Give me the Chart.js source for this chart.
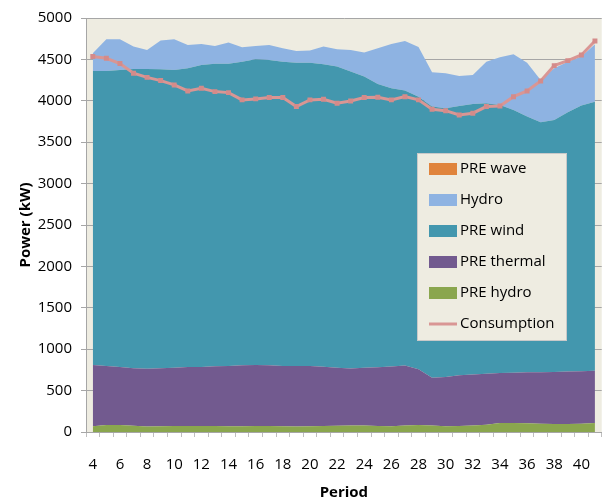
<!DOCTYPE html>
<html>
<head>
<meta charset="utf-8">
<script src="https://cdn.jsdelivr.net/npm/chart.js@4.4.1/dist/chart.umd.min.js"></script>
<style>
  html, body { margin: 0; padding: 0; background: #fff; overflow: hidden; }
  #wrap { width: 614px; height: 503px; }
</style>
</head>
<body>
<div id="wrap"><canvas id="power-chart" width="614" height="503"></canvas></div>
<script>
// Periods on the x axis
const periods = [4, 5, 6, 7, 8, 9, 10, 11, 12, 13, 14, 15, 16, 17, 18, 19, 20, 21, 22,
  23, 24, 25, 26, 27, 28, 29, 30, 31, 32, 33, 34, 35, 36, 37, 38, 39, 40, 41];

// Stacked sources (kW), bottom to top
const preHydro = [70, 85, 85, 75, 65, 68, 72, 72, 72, 72, 70, 70, 72, 72, 70, 65, 68, 72, 75,
  80, 77, 73, 69, 80, 85, 77, 69, 73, 80, 88, 108, 108, 105, 100, 97, 97, 100, 108];
const preThermal = [739, 712, 700, 695, 700, 701, 705, 713, 713, 721, 727, 735, 737, 733, 727, 732, 729, 717, 702,
  687, 700, 708, 721, 722, 674, 578, 596, 612, 613, 617, 606, 608, 617, 622, 629, 633, 634, 632];
const preWind = [3552, 3564, 3588, 3615, 3620, 3611, 3596, 3608, 3648, 3653, 3649, 3668, 3693, 3689, 3676, 3664, 3664, 3652, 3636,
  3586, 3515, 3423, 3362, 3321, 3291, 3275, 3245, 3253, 3269, 3265, 3236, 3174, 3087, 3019, 3043, 3132, 3208, 3250];
const hydro = [214, 383, 371, 270, 230, 347, 371, 282, 254, 217, 257, 174, 161, 181, 162, 141, 145, 214, 210,
  262, 290, 431, 535, 600, 600, 415, 423, 362, 351, 503, 576, 672, 652, 511, 624, 611, 592, 693];
const preWave = [0, 0, 0, 0, 0, 0, 0, 0, 0, 0, 0, 0, 0, 0, 0, 0, 0, 0, 0,
  0, 0, 0, 0, 0, 0, 0, 0, 0, 0, 0, 0, 0, 0, 0, 0, 0, 0, 0];

// Consumption line (kW)
const consumption = [4534, 4514, 4450, 4333, 4283, 4244, 4192, 4119, 4152, 4111, 4099, 4011, 4023, 4039, 4039, 3930, 4011, 4019, 3970,
  3998, 4039, 4043, 4011, 4050, 4011, 3898, 3881, 3829, 3850, 3930, 3938, 4050, 4119, 4240, 4425, 4485, 4554, 4723];

const yTicks = [0, 500, 1000, 1500, 2000, 2500, 3000, 3500, 4000, 4500, 5000];
const legendLabels = ['PRE wave', 'Hydro', 'PRE wind', 'PRE thermal', 'PRE hydro', 'Consumption'];

const FONT = 'Open Sans, Lato, sans-serif';

const COLORS = {
  'PRE wave': '#E0843C',
  'Hydro': '#8EB3E2',
  'PRE wind': '#4397AE',
  'PRE thermal': '#725A8F',
  'PRE hydro': '#8AA64E',
  'Consumption': '#D99694'
};

function areaSet(label, data, fill) {
  return {
    label,
    data,
    stack: 'gen',
    borderWidth: 0,
    borderColor: COLORS[label],
    backgroundColor: COLORS[label],
    pointRadius: 0,
    pointHoverRadius: 0,
    fill,
    tension: 0
  };
}

// plot area background (Excel tan)
const plotBg = {
  id: 'plotBg',
  beforeDraw(chart) {
    const { ctx, chartArea: a } = chart;
    ctx.save();
    ctx.fillStyle = '#EEECE1';
    ctx.fillRect(a.left, a.top, a.right - a.left, a.bottom - a.top);
    ctx.restore();
  }
};

// legend box sitting inside the plot
const boxLegend = {
  id: 'boxLegend',
  afterDatasetsDraw(chart) {
    const ctx = chart.ctx;
    const x = 417, y = 153, w = 149, h = 187;
    ctx.save();
    ctx.fillStyle = '#EEECE1';
    ctx.fillRect(x, y, w, h);
    ctx.strokeStyle = '#C9C9C9';
    ctx.lineWidth = 1;
    ctx.strokeRect(x + 0.5, y + 0.5, w, h);
    ctx.font = '15px ' + FONT;
    ctx.textBaseline = 'middle';
    ctx.textAlign = 'left';
    legendLabels.forEach((label, i) => {
      const cy = 169 + i * 31;
      if (label === 'Consumption') {
        ctx.strokeStyle = COLORS[label];
        ctx.lineWidth = 3;
        ctx.beginPath();
        ctx.moveTo(429, cy);
        ctx.lineTo(457, cy);
        ctx.stroke();
      } else {
        ctx.fillStyle = COLORS[label];
        ctx.fillRect(429, cy - 6, 28, 12);
      }
      ctx.fillStyle = '#000';
      ctx.fillText(label, 460, cy);
    });
    ctx.restore();
  }
};

const ctx = document.getElementById('power-chart').getContext('2d');

new Chart(ctx, {
  type: 'line',
  data: {
    labels: periods,
    datasets: [
      {
        label: 'Consumption',
        data: consumption,
        stack: 'cons',
        borderColor: COLORS['Consumption'],
        borderWidth: 3,
        pointStyle: 'rect',
        pointRadius: 3.5,
        pointBackgroundColor: '#D48B8A',
        pointBorderWidth: 0,
        fill: false,
        tension: 0
      },
      areaSet('PRE hydro', preHydro, 'origin'),
      areaSet('PRE thermal', preThermal, '-1'),
      areaSet('PRE wind', preWind, '-1'),
      areaSet('Hydro', hydro, '-1'),
      areaSet('PRE wave', preWave, '-1')
    ]
  },
  options: {
    responsive: false,
    animation: false,
    layout: { padding: { top: 18, right: 0, bottom: 0, left: 0 } },
    plugins: {
      legend: { display: false },
      tooltip: { enabled: false }
    },
    scales: {
      x: {
        offset: true,
        grid: { display: true, offset: true, drawOnChartArea: false, tickLength: 5, color: '#BFBFBF' },
        border: { color: '#A6A6A6' },
        ticks: {
          autoSkip: false,
          maxRotation: 0,
          padding: 19,
          color: '#000',
          font: { family: FONT, size: 15 },
          callback: function (value, index) {
            return index % 2 === 0 ? this.getLabelForValue(value) : '';
          }
        },
        title: {
          display: true,
          text: 'Period',
          color: '#000',
          font: { family: FONT, size: 15, weight: 'bold' },
          padding: { top: 0, bottom: 1 }
        },
        afterFit: s => { s.height = 71; }
      },
      y: {
        stacked: true,
        min: 0,
        max: 5000,
        afterBuildTicks: s => { s.ticks = yTicks.map(v => ({ value: v })); },
        grid: { color: '#A6A6A6', tickLength: 5 },
        border: { color: '#A6A6A6' },
        ticks: {
          padding: 9,
          color: '#000',
          font: { family: FONT, size: 15 },
          callback: v => String(v)
        },
        title: {
          display: true,
          text: 'Power (kW)',
          color: '#000',
          font: { family: FONT, size: 15, weight: 'bold' },
          padding: { top: 17, bottom: 0 }
        },
        afterFit: s => { s.width = 86; }
      }
    }
  },
  plugins: [plotBg, boxLegend]
});
</script>
</body>
</html>
